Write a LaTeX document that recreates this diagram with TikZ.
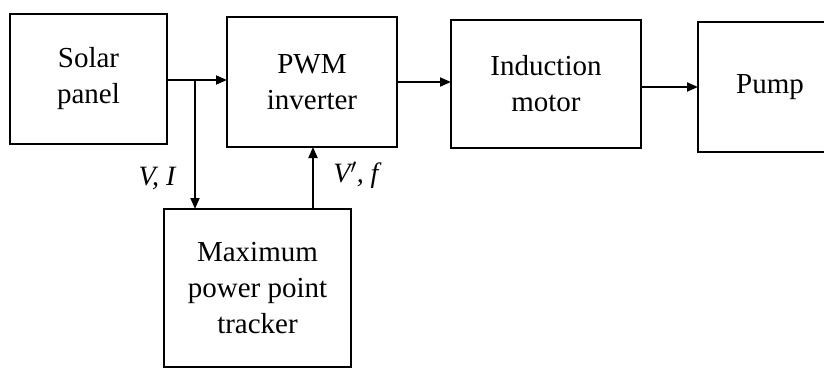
\documentclass[tikz,border=0pt]{standalone}
\usepackage{fontspec}
\setmainfont{Liberation Serif}
\usetikzlibrary{arrows.meta}
\begin{document}
\begin{tikzpicture}[x=1pt,y=-1pt,
  blk/.style={draw,line width=1.8pt,rectangle,inner sep=0pt,outer sep=0pt,align=center,
    font=\fontsize{29}{36}\selectfont},
  arr/.style={line width=1.8pt,-{Triangle[length=11pt,width=9pt]}},
  lbl/.style={font=\fontsize{28}{30}\selectfont\itshape}]
\useasboundingbox (0,0) rectangle (824,369);
\node[blk,minimum width=157pt,minimum height=130pt] (solar) at (88.5,79) {Solar\\panel};
\node[blk,minimum width=170pt,minimum height=130pt] (pwm) at (312,82) {PWM\\inverter};
\node[blk,minimum width=190pt,minimum height=128pt] (im) at (546,84) {Induction\\motor};
\node[blk,minimum width=144pt,minimum height=130pt] (pump) at (770,87) {Pump};
\node[blk,minimum width=187pt,minimum height=158pt] (mppt) at (257.5,288) {Maximum\\power point\\tracker};
\coordinate (br) at (195,80);
\coordinate (fb) at (313,209);
\draw[arr] (solar.east |- br) -- (pwm.west |- br);
\draw[arr] (br) -- (br |- mppt.north);
\draw[arr] (fb |- mppt.north) -- (fb |- pwm.south);
\draw[arr] (pwm.east) -- (pwm.east -| im.west);
\draw[arr] (im.east |- 0,87) -- (pump.west);
\node[lbl] (vi) at (157,178) {V, I};
\node[lbl] (vf) at (356,175) {V$'$, f};
\end{tikzpicture}
\end{document}
